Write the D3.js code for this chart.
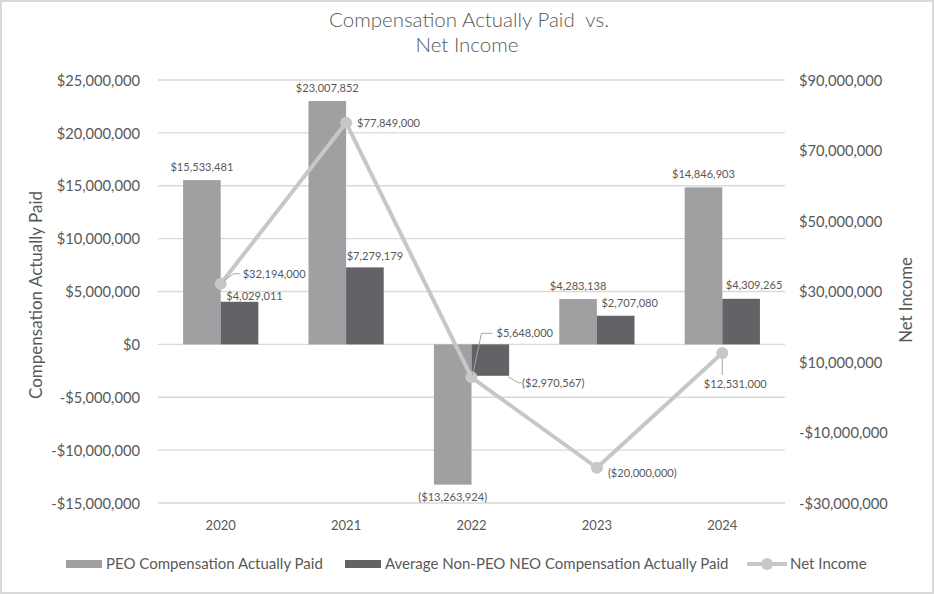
<!DOCTYPE html>
<html>
<head>
<meta charset="utf-8">
<script src="https://cdn.jsdelivr.net/npm/d3@7"></script>
<style>
  body { margin: 0; background: #fff; }
  text { font-family: Lato, "Open Sans", sans-serif; fill: #595959; white-space: pre; }
</style>
</head>
<body>
<div id="chart"></div>
<script>
const years = ["2020", "2021", "2022", "2023", "2024"];
const peoPaid = [15533481, 23007852, -13263924, 4283138, 14846903];
const neoPaid = [4029011, 7279179, -2970567, 2707080, 4309265];
const netIncome = [32194000, 77849000, 5648000, -20000000, 12531000];
const leftTicks = d3.range(-15e6, 25e6 + 1, 5e6);
const rightTicks = d3.range(-30e6, 90e6 + 1, 20e6);
const seriesNames = ["PEO Compensation Actually Paid", "Average Non-PEO NEO Compensation Actually Paid", "Net Income"];

// hand placed label offsets (as in the excel original)
const peoShift = [[0, -13], [0, -13], [0, 12], [0, -13], [0, -13]];
const neoShift = [[15, -6], [10, -11], [63, 7], [14, -13], [13, -14]];
const niShift = [[22, -10, "start"], [11, 0, "start"], [25, -44, "start"], [11, 5, "start"], [13, 31, "middle"]];
const neoLeaders = {2: [[18, 1], [28, 7], [31, 7]]};
const niLeaders = {0: [[3, -3], [13, -10], [19, -10]], 2: [[1, -2], [10, -44], [21, -44]], 4: [[0, 6], [0, 22]]};

const width = 934, height = 594;
const plotL = 158, plotR = 785, plotT = 80, plotB = 503;
const peoColor = "#a0a0a3", neoColor = "#636266", lineColor = "#c7c7c7";

const svg = d3.select("#chart").append("svg").attr("width", width).attr("height", height);
svg.append("rect").attr("x", 1).attr("y", 1).attr("width", width - 2).attr("height", height - 2)
  .attr("fill", "#fff").attr("stroke", "#d9d9d9").attr("stroke-width", 2);

const x = d3.scaleBand().domain(years).range([plotL, plotR]).paddingInner(0.4).paddingOuter(0.2);
const xs = d3.scaleBand().domain([0, 1]).range([0, x.bandwidth()]);
const yL = d3.scaleLinear().domain([-15e6, 25e6]).range([plotB, plotT]);
const yR = d3.scaleLinear().domain([-30e6, 90e6]).range([plotB, plotT]);

const money = v => (v < 0 ? "-$" : "$") + d3.format(",")(Math.abs(v));
const label = v => v < 0 ? "($" + d3.format(",")(-v) + ")" : "$" + d3.format(",")(v);

// gridlines
svg.append("g").selectAll("line").data(leftTicks).join("line")
  .attr("x1", plotL).attr("x2", plotR)
  .attr("y1", d => yL(d)).attr("y2", d => yL(d))
  .attr("stroke", "#d9d9d9").attr("stroke-width", 1.3);

// axes
const axL = svg.append("g").attr("transform", `translate(${plotL - 15},0)`)
  .call(d3.axisLeft(yL).tickValues(leftTicks).tickFormat(money).tickSize(0));
const axR = svg.append("g").attr("transform", `translate(${plotR + 11},0)`)
  .call(d3.axisRight(yR).tickValues(rightTicks).tickFormat(money).tickSize(0));
const axX = svg.append("g").attr("transform", `translate(0,${plotB + 22})`)
  .call(d3.axisBottom(x).tickSize(0));
[axL, axR, axX].forEach(a => {
  a.select(".domain").remove();
  a.selectAll("text").style("font-family", "Lato").attr("fill", "#595959");
});
axL.selectAll("text").style("font-size", "14.7px").attr("dy", "0.35em");
axR.selectAll("text").style("font-size", "14.7px").attr("dy", "0.35em");
axX.selectAll("text").style("font-size", "13px").attr("dy", "0.35em").attr("y", 0);

// bars
const bars = svg.append("g");
[peoPaid, neoPaid].forEach((vals, s) => {
  bars.selectAll(null).data(vals).join("rect")
    .attr("x", (d, i) => x(years[i]) + xs(s))
    .attr("width", xs.bandwidth())
    .attr("y", d => yL(Math.max(0, d)))
    .attr("height", d => Math.abs(yL(d) - yL(0)))
    .attr("fill", s === 0 ? peoColor : neoColor);
});

// net income line
const pts = netIncome.map((d, i) => [x(years[i]) + x.bandwidth() / 2, yR(d)]);
svg.append("path").datum(pts).attr("d", d3.line())
  .attr("fill", "none").attr("stroke", lineColor).attr("stroke-width", 4).attr("stroke-linejoin", "round");
svg.append("g").selectAll("circle").data(pts).join("circle")
  .attr("cx", d => d[0]).attr("cy", d => d[1]).attr("r", 6).attr("fill", lineColor);

// data labels
const lbl = svg.append("g").style("font-size", "11.1px");
const leader = (ax, ay, pts) => lbl.append("path")
  .attr("d", d3.line()(pts.map(p => [ax + p[0], ay + p[1]])))
  .attr("fill", "none").attr("stroke", "#a6a6a6").attr("stroke-width", 1);

peoPaid.forEach((v, i) => {
  const cx = x(years[i]) + xs(0) + xs.bandwidth() / 2;
  lbl.append("text").attr("x", cx + peoShift[i][0]).attr("y", yL(v) + peoShift[i][1])
    .attr("dy", "0.35em").attr("text-anchor", "middle").text(label(v));
});
neoPaid.forEach((v, i) => {
  const cx = x(years[i]) + xs(1) + xs.bandwidth() / 2;
  if (neoLeaders[i]) leader(cx, yL(v), neoLeaders[i]);
  lbl.append("text").attr("x", cx + neoShift[i][0]).attr("y", yL(v) + neoShift[i][1])
    .attr("dy", "0.35em").attr("text-anchor", "middle").text(label(v));
});
netIncome.forEach((v, i) => {
  const [px, py] = pts[i];
  if (niLeaders[i]) leader(px, py, niLeaders[i]);
  lbl.append("text").attr("x", px + niShift[i][0]).attr("y", py + niShift[i][1])
    .attr("dy", "0.35em").attr("text-anchor", niShift[i][2]).text(label(v));
});

// titles
const title = svg.append("text").attr("text-anchor", "middle").style("font-size", "20.5px").style("font-weight", 300);
title.append("tspan").attr("x", 469).attr("y", 27).text("Compensation Actually Paid  vs.");
title.append("tspan").attr("x", 467).attr("y", 52).text("Net Income");

svg.append("text").attr("transform", "translate(42,295) rotate(-90)").attr("text-anchor", "middle")
  .style("font-size", "17px").text("Compensation Actually Paid");
svg.append("text").attr("transform", "translate(912,300) rotate(-90)").attr("text-anchor", "middle")
  .style("font-size", "16.8px").text("Net Income");

// legend
const lg = svg.append("g").style("font-size", "15px");
const lgX = [66, 345, 747];
lg.append("rect").attr("x", lgX[0]).attr("y", 560).attr("width", 36).attr("height", 8).attr("fill", peoColor);
lg.append("rect").attr("x", lgX[1]).attr("y", 560).attr("width", 36).attr("height", 8).attr("fill", neoColor);
lg.append("line").attr("x1", lgX[2]).attr("x2", lgX[2] + 40).attr("y1", 564).attr("y2", 564)
  .attr("stroke", lineColor).attr("stroke-width", 4);
lg.append("circle").attr("cx", lgX[2] + 20).attr("cy", 564).attr("r", 6).attr("fill", lineColor);
seriesNames.forEach((n, i) => {
  lg.append("text").attr("x", lgX[i] + (i === 2 ? 43 : 40)).attr("y", 564).attr("dy", "0.35em").text(n);
});
</script>
</body>
</html>
